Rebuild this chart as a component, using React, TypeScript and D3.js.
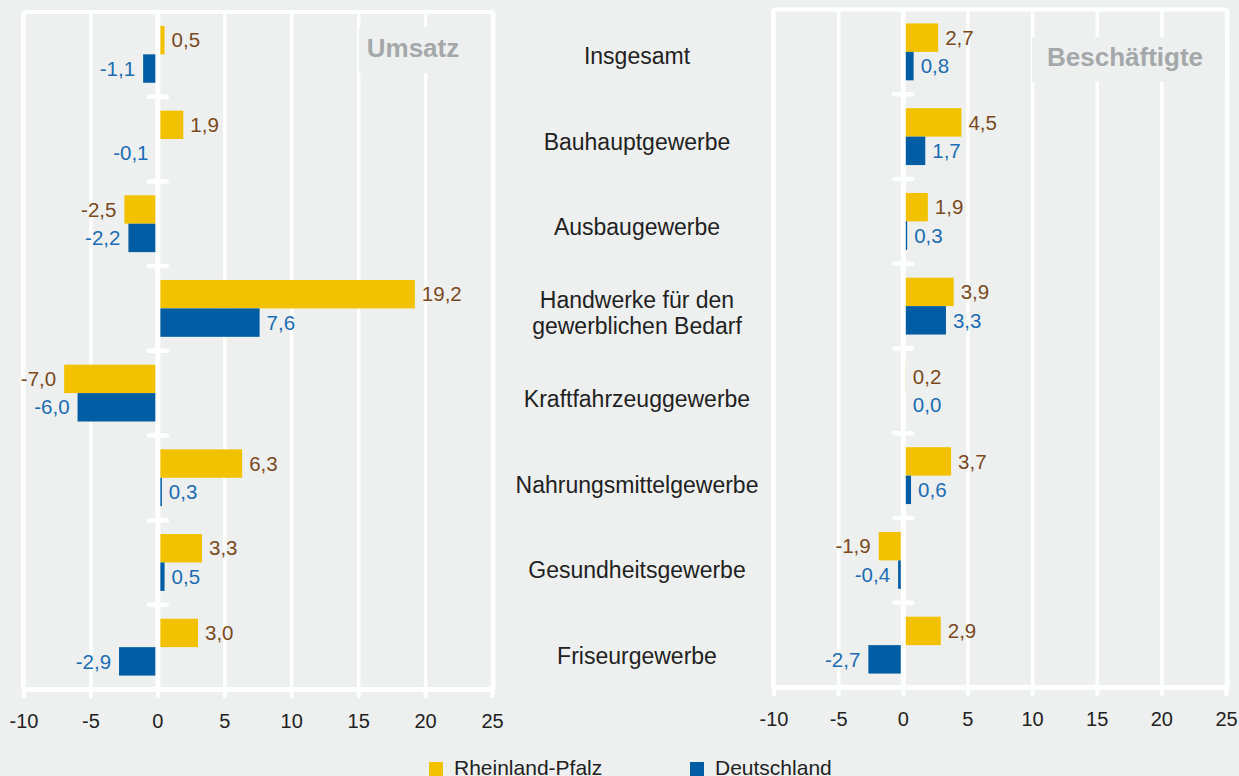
import React from "react";
import * as d3 from "d3";

const categories = [
  "Insgesamt",
  "Bauhauptgewerbe",
  "Ausbaugewerbe",
  "Handwerke für den|gewerblichen Bedarf",
  "Kraftfahrzeuggewerbe",
  "Nahrungsmittelgewerbe",
  "Gesundheitsgewerbe",
  "Friseurgewerbe",
];
const seriesNames = ["Rheinland-Pfalz", "Deutschland"];
const umsatzRP = [0.5, 1.9, -2.5, 19.2, -7.0, 6.3, 3.3, 3.0];
const umsatzDE = [-1.1, -0.1, -2.2, 7.6, -6.0, 0.3, 0.5, -2.9];
const beschRP = [2.7, 4.5, 1.9, 3.9, 0.2, 3.7, -1.9, 2.9];
const beschDE = [0.8, 1.7, 0.3, 3.3, 0.0, 0.6, -0.4, -2.7];
const xTicks = [-10, -5, 0, 5, 10, 15, 20, 25];

const BG = "#eef0ef";
const YELLOW = "#f2c200";
const BLUE = "#005ca3";
const RP_TEXT = "#7a4a1e";
const DE_TEXT = "#1c6db3";
const FONT = "'Liberation Sans', Arial, Helvetica, sans-serif";

const fmt = (v: number) => v.toFixed(1).replace(".", ",");

type PanelProps = {
  x0: number;
  x1: number;
  top: number;
  bottom: number;
  rp: number[];
  de: number[];
  title: string;
  box: { x: number; y: number; w: number; h: number; tx: number; ty: number };
};

function Panel({ x0, x1, top, bottom, rp, de, title, box }: PanelProps) {
  const x = d3.scaleLinear().domain([-10, 25]).range([x0, x1]);
  const y = d3.scaleBand<string>().domain(categories).range([top, bottom]).padding(0);
  const inner = d3
    .scaleBand<string>()
    .domain(seriesNames)
    .range([0, y.bandwidth()])
    .paddingInner(0)
    .paddingOuter(0.49);
  const values = [rp, de];
  const colors = [YELLOW, BLUE];
  const textColors = [RP_TEXT, DE_TEXT];
  const zx = x(0);
  return (
    <g>
      {xTicks.map((t) => (
        <line key={"g" + t} x1={x(t)} x2={x(t)} y1={top} y2={bottom} stroke="#fff" strokeWidth={3.5} />
      ))}
      <line x1={x0 - 1} x2={x1 + 1} y1={top} y2={top} stroke="#fff" strokeWidth={4} />
      <line x1={x0 - 1} x2={x0 - 1} y1={top} y2={bottom} stroke="#fff" strokeWidth={4} />
      <line x1={x1 + 1} x2={x1 + 1} y1={top} y2={bottom} stroke="#fff" strokeWidth={4} />
      <rect x={box.x} y={box.y} width={box.w} height={box.h} fill={BG} />
      <text
        x={box.tx}
        y={box.ty}
        textAnchor="middle"
        fontFamily={FONT}
        fontWeight="bold"
        fontSize={26}
        fill="#a5a8ab"
      >
        {title}
      </text>
      {categories.map((c, i) =>
        seriesNames.map((s, k) => {
          const v = values[k][i];
          const by = (y(c) as number) + (inner(s) as number);
          const bh = inner.bandwidth();
          const xa = Math.min(x(0), x(v));
          const w = Math.abs(x(v) - x(0));
          return <rect key={c + s} x={xa} y={by} width={w} height={bh} fill={colors[k]} />;
        })
      )}
      <line x1={zx} x2={zx} y1={top} y2={bottom} stroke="#fff" strokeWidth={5} />
      {categories.slice(1).map((c) => (
        <line
          key={"s" + c}
          x1={zx - 9}
          x2={zx + 9}
          y1={y(c) as number}
          y2={y(c) as number}
          stroke="#fff"
          strokeWidth={4.5}
          strokeLinecap="round"
        />
      ))}
      {categories.map((c, i) =>
        seriesNames.map((s, k) => {
          const v = values[k][i];
          const cy = (y(c) as number) + (inner(s) as number) + inner.bandwidth() / 2;
          const neg = v < 0;
          const lx = neg ? x(v) - 8 : Math.max(x(v), zx + 2.5) + 7;
          return (
            <text
              key={"l" + c + s}
              x={lx}
              y={cy}
              dy="0.35em"
              textAnchor={neg ? "end" : "start"}
              fontFamily={FONT}
              fontSize={20.5}
              fill={textColors[k]}
            >
              {fmt(v)}
            </text>
          );
        })
      )}
      <line x1={x0 - 2} x2={x1 + 2} y1={bottom} y2={bottom} stroke="#fff" strokeWidth={5} />
      {xTicks.map((t) => (
        <line
          key={"t" + t}
          x1={x(t)}
          x2={x(t)}
          y1={bottom}
          y2={bottom + 7}
          stroke="#fff"
          strokeWidth={4}
          strokeLinecap="round"
        />
      ))}
      {xTicks.map((t) => (
        <text
          key={"tl" + t}
          x={x(t)}
          y={bottom + 38}
          textAnchor="middle"
          fontFamily={FONT}
          fontSize={20}
          fill="#222"
        >
          {t}
        </text>
      ))}
    </g>
  );
}

export default function App() {
  const yCat = d3.scaleBand<string>().domain(categories).range([13, 699]).padding(0);
  return (
    <svg
      width={1239}
      height={776}
      style={{ position: "absolute", left: 0, top: 0, display: "block" }}
    >
      <rect x={0} y={0} width={1239} height={776} fill={BG} />
      <Panel
        x0={24}
        x1={492.5}
        top={12}
        bottom={689.5}
        rp={umsatzRP}
        de={umsatzDE}
        title="Umsatz"
        box={{ x: 359, y: 27, w: 131, h: 46, tx: 413, ty: 57 }}
      />
      <Panel
        x0={774}
        x1={1226.5}
        top={9.5}
        bottom={687.5}
        rp={beschRP}
        de={beschDE}
        title="Beschäftigte"
        box={{ x: 1032, y: 37, w: 193, h: 45, tx: 1125, ty: 66 }}
      />
      {categories.map((c) => {
        const lines = c.split("|");
        const cy = (yCat(c) as number) + yCat.bandwidth() / 2;
        return (
          <text
            key={"c" + c}
            textAnchor="middle"
            fontFamily={FONT}
            fontSize={23}
            fill="#222"
          >
            {lines.map((ln, j) => (
              <tspan key={j} x={637} y={cy + (j - (lines.length - 1) / 2) * 26} dy="0.35em">
                {ln}
              </tspan>
            ))}
          </text>
        );
      })}
      {seriesNames.map((s, k) => {
        const lx = [429, 690][k];
        return (
          <g key={"lg" + s}>
            <rect x={lx} y={762} width={14} height={14} fill={[YELLOW, BLUE][k]} />
            <text x={lx + 25} y={775} fontFamily={FONT} fontSize={21} fill="#222">
              {s}
            </text>
          </g>
        );
      })}
    </svg>
  );
}
